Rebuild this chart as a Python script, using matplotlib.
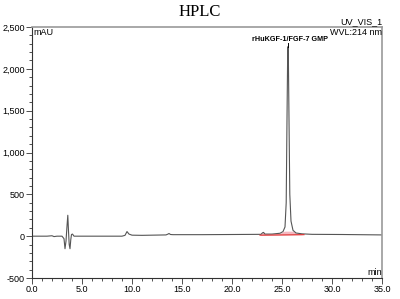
import numpy as np
import matplotlib.pyplot as plt
from matplotlib.ticker import MultipleLocator, FuncFormatter

# chromatogram trace (min, mAU)
time = [0.0, 1.5, 2.0, 2.2, 2.5, 3.0, 3.2, 3.3, 3.4, 3.5, 3.58, 3.65, 3.72, 3.8, 3.88, 3.95, 4.05, 4.2,
        4.5, 9.0, 9.3, 9.5, 9.7, 10.0, 11.0, 13.4, 13.6, 13.7, 13.85, 14.1, 17.0, 20.0, 22.9, 23.05,
        23.15, 23.3, 24.0, 24.8, 25.1, 25.3, 25.42, 25.5, 25.56, 25.6, 25.64, 25.7, 25.78, 25.9,
        26.1, 26.4, 27.0, 28.0, 31.0, 35.0]
signal = [0, 0, 5, -5, 0, 0, -30, -150, -60, 120, 250, 60, -100, -150, -40, 20, 25, 0,
          0, 0, 10, 55, 25, 12, 10, 15, 25, 32, 20, 18, 18, 20, 22, 40,
          45, 25, 25, 35, 55, 110, 400, 1400, 2100, 2265, 2100, 1400, 500, 180,
          70, 38, 28, 22, 20, 15]

# integration baseline (red)
base_t = [22.8, 25.3, 27.2]
base_y = [12, 15, 18]

x_ticks = [0, 5, 10, 15, 20, 25, 30, 35]
y_ticks = [-500, 0, 500, 1000, 1500, 2000, 2500]

plt.rcParams["font.family"] = "Liberation Sans"
fig = plt.figure(figsize=(4.0, 2.99), dpi=100)
ax = fig.add_axes([0.08, 0.0702, 0.875, 0.8395])

# pink shading of the integrated area
t_arr = np.array(time)
s_arr = np.array(signal)
mask = (t_arr >= 22.8) & (t_arr <= 27.2)
ax.fill_between(t_arr[mask], np.interp(t_arr[mask], base_t, base_y), np.minimum(s_arr[mask], 60),
                color="#f4b8c0", linewidth=0)

ax.plot(time, signal, color="#555555", linewidth=0.8)
ax.plot(base_t, base_y, color="#e03030", linewidth=0.8)

ax.set_xlim(0, 35)
ax.set_ylim(-500, 2500)
ax.set_xticks(x_ticks)
ax.set_yticks(y_ticks)
ax.xaxis.set_minor_locator(MultipleLocator(1))
ax.yaxis.set_minor_locator(MultipleLocator(100))
ax.xaxis.set_major_formatter(FuncFormatter(lambda v, p: f"{v:.1f}"))
ax.yaxis.set_major_formatter(FuncFormatter(lambda v, p: f"{int(v):,}"))
ax.tick_params(axis="both", which="major", length=4, width=0.6, labelsize=6.5, pad=1, color="#333333")
ax.tick_params(axis="both", which="minor", length=2, width=0.6, color="#333333")

for s in ["top", "right"]:
    ax.spines[s].set_color("#999999")
    ax.spines[s].set_linewidth(1.2)
for s in ["left", "bottom"]:
    ax.spines[s].set_color("#333333")
    ax.spines[s].set_linewidth(0.8)

ax.text(0.005, 0.995, "mAU", transform=ax.transAxes, fontsize=6.5, va="top", ha="left")
ax.text(1.0, 0.005, "min", transform=ax.transAxes, fontsize=6.5, va="bottom", ha="right")
ax.text(1.0, 1.005, "UV_VIS_1", transform=ax.transAxes, fontsize=6.5, va="bottom", ha="right")
ax.text(1.0, 0.995, "WVL:214 nm", transform=ax.transAxes, fontsize=6.5, va="top", ha="right")
fig.text(0.5, 0.96, "HPLC", fontsize=12, family="Liberation Serif", ha="center", va="center")

# peak label with vertical leader line
ax.text(25.8, 2310, "rHuKGF-1/FGF-7 GMP", fontsize=5.2, fontweight="bold", ha="center", va="bottom")
ax.plot([25.6, 25.6], [2265, 2305], color="black", linewidth=0.7)

fig.savefig("out.png", dpi=100)
